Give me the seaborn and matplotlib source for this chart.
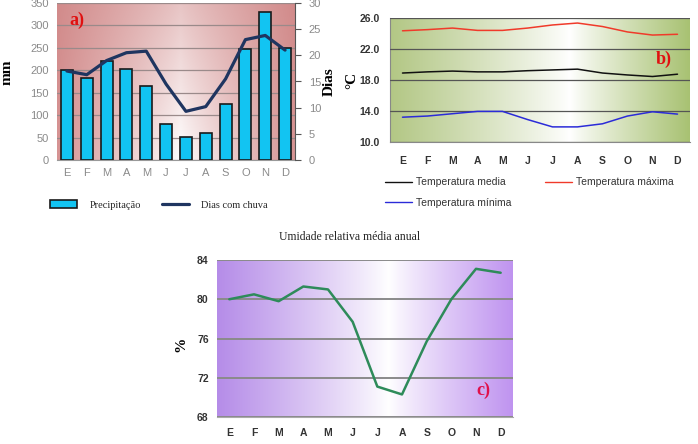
import numpy as np
import matplotlib
matplotlib.use('Agg')
import matplotlib.pyplot as plt
import seaborn as sns
import pandas as pd
from matplotlib.lines import Line2D
from matplotlib.patches import Patch

months = ['E', 'F', 'M', 'A', 'M', 'J', 'J', 'A', 'S', 'O', 'N', 'D']

# a) precipitation (mm) and rainy days
precip = [200, 182, 220, 202, 166, 80, 52, 61, 124, 248, 330, 250]
dias_chuva = [17.0, 16.3, 19.0, 20.5, 20.8, 14.5, 9.3, 10.2, 15.5, 23.0, 23.8, 21.0]

# b) temperatures (°C)
temp_max = [24.35, 24.5, 24.7, 24.4, 24.4, 24.7, 25.1, 25.35, 24.9, 24.2, 23.8, 23.9]
temp_med = [18.9, 19.05, 19.15, 19.05, 19.05, 19.2, 19.3, 19.4, 18.9, 18.65, 18.45, 18.75]
temp_min = [13.2, 13.35, 13.65, 13.95, 13.95, 12.9, 11.95, 11.95, 12.35, 13.35, 13.9, 13.6]

# c) relative humidity (%)
umidade = [80.0, 80.5, 79.8, 81.3, 81.0, 77.7, 71.1, 70.3, 75.7, 80.0, 83.1, 82.7]

sns.set_style('white')
plt.rcParams['font.family'] = ['Liberation Sans', 'DejaVu Sans']

W, H = 698, 444
fig = plt.figure(figsize=(W / 100, H / 100), dpi=100)


def px_axes(x0, y0, x1, y1):
    return fig.add_axes([x0 / W, 1 - y1 / H, (x1 - x0) / W, (y1 - y0) / H])


def gradient_bg(ax, edge_l, edge_r, center, top_dark=None):
    nx, ny = 300, 60
    xs = np.linspace(0, 1, nx)
    t = np.where(xs < center, (center - xs) / center, (xs - center) / (1 - center))
    t = np.clip(t, 0, 1) ** 0.9
    edge = np.where(xs[:, None] < center, np.array(edge_l)[None, :], np.array(edge_r)[None, :])
    row = (1 - t[:, None]) * np.ones(3) + t[:, None] * edge
    img = np.repeat(row[None, :, :], ny, axis=0)
    if top_dark is not None:
        ys = np.linspace(0, 1, ny)[:, None, None]  # 0 top
        dark = np.array(top_dark)[None, None, :]
        k = (1 - ys) * 0.45
        img = img * (1 - k) + np.minimum(img, dark) * k
    ax.imshow(img, extent=(0, 1, 0, 1), transform=ax.transAxes, aspect='auto',
              zorder=0, interpolation='bilinear')


serif_bold = dict(family=['Liberation Serif'], fontweight='bold', fontsize=11, color='black')

df = pd.DataFrame({'idx': np.arange(12), 'precip': precip, 'dias': dias_chuva,
                   'tmax': temp_max, 'tmed': temp_med, 'tmin': temp_min, 'um': umidade})

# ---------------- a) ----------------
ax_a = px_axes(57, 3, 295, 160)
gradient_bg(ax_a, (0.84, 0.58, 0.58), (0.84, 0.58, 0.58), 0.52, top_dark=(0.80, 0.50, 0.50))
sns.barplot(data=df, x='idx', y='precip', color='#12c4f2', edgecolor='#1a1a1a',
            linewidth=1.2, width=0.6, saturation=1, ax=ax_a, zorder=3)
ax_a.set_ylim(0, 350)
ax_a.set_xlim(-0.5, 11.5)
ax_a.set_yticks(range(0, 351, 50))
ax_a.yaxis.grid(True, color='#9a8a8a', lw=0.9)
ax_a.set_axisbelow(False)
for gl in ax_a.get_ygridlines():
    gl.set_zorder(1)
ax_a.set_xticks(range(12))
ax_a.set_xticklabels(months)
ax_a.tick_params(axis='both', colors='#8a8a8a', labelsize=8, length=0, pad=6)
ax_a.set_xlabel('')
ax_a.set_ylabel('mm', **serif_bold)
ax_a.yaxis.set_label_coords(-0.182, 0.56)
for s in ['top', 'left', 'right']:
    ax_a.spines[s].set_visible(False)
ax_a.spines['bottom'].set_color('#999999')

ax_a2 = ax_a.twinx()
sns.lineplot(data=df, x='idx', y='dias', color='#1f3560', lw=2.3, ax=ax_a2, zorder=4)
ax_a2.set_ylim(0, 30)
ax_a2.set_yticks(range(0, 31, 5))
ax_a2.tick_params(axis='y', colors='#8a8a8a', labelsize=8, length=4, width=0.8,
                  direction='out', pad=6)
ax_a2.tick_params(axis='y', color='#555555')
ax_a2.set_ylabel('Dias', **serif_bold)
ax_a2.yaxis.set_label_coords(1.118, 0.5)
for s in ['top', 'left', 'bottom']:
    ax_a2.spines[s].set_visible(False)
ax_a2.spines['right'].set_color('#555555')
ax_a2.set_xlim(-0.5, 11.5)
ax_a.text(0.05, 0.89, 'a)', transform=ax_a.transAxes, color='#e01010', fontsize=13,
          fontweight='bold', family=['Liberation Serif'], va='center', zorder=6)

handles_a = [Patch(facecolor='#12c4f2', edgecolor='#1a1a1a', lw=1.2),
             Line2D([], [], color='#1f3560', lw=2.3)]
fig.legend(handles_a, ['Precipitação', 'Dias com chuva'], loc='center left',
           bbox_to_anchor=(41 / W, 1 - 205 / H), ncol=2, frameon=False,
           prop={'family': 'Liberation Serif', 'size': 7.5}, handlelength=2.6,
           handleheight=0.8, columnspacing=2.0, handletextpad=1.15)

# ---------------- b) ----------------
ax_b = px_axes(390, 18, 690, 142)
gradient_bg(ax_b, (0.70, 0.78, 0.52), (0.66, 0.76, 0.45), 0.60)
sns.lineplot(data=df, x='idx', y='tmax', color='#f03a2a', lw=1.1, ax=ax_b, zorder=4)
sns.lineplot(data=df, x='idx', y='tmed', color='#111111', lw=1.1, ax=ax_b, zorder=4)
sns.lineplot(data=df, x='idx', y='tmin', color='#2b2bd8', lw=1.1, ax=ax_b, zorder=4)
ax_b.set_ylim(10, 26)
ax_b.set_xlim(-0.5, 11.5)
ax_b.set_yticks([10, 14, 18, 22, 26])
ax_b.set_yticklabels(['10.0', '14.0', '18.0', '22.0', '26.0'])
ax_b.set_yticks(np.arange(10, 26.1, 1), minor=True)
ax_b.yaxis.grid(True, which='major', color='#555555', lw=0.9)
ax_b.set_axisbelow(False)
for gl in ax_b.get_ygridlines():
    gl.set_zorder(1)
ax_b.set_xticks(np.arange(-0.5, 12, 1), minor=True)
ax_b.set_xticks(range(12))
ax_b.set_xticklabels(months)
ax_b.tick_params(axis='x', which='major', length=0, labelsize=7.5, labelcolor='#333333', pad=10)
ax_b.tick_params(axis='x', which='minor', length=4, color='#777777', direction='out')
ax_b.tick_params(axis='y', which='major', length=4, labelsize=7.5, labelcolor='#333333',
                 color='#777777', direction='out')
ax_b.tick_params(axis='y', which='minor', length=2.5, color='#777777', direction='out')
for lbl in ax_b.get_xticklabels() + ax_b.get_yticklabels():
    lbl.set_fontweight('bold')
ax_b.set_xlabel('')
ax_b.set_ylabel('°C', **serif_bold)
ax_b.yaxis.set_label_coords(-0.105, 0.5)
for s in ['top', 'right']:
    ax_b.spines[s].set_visible(False)
for s in ['left', 'bottom']:
    ax_b.spines[s].set_color('#888888')
    ax_b.spines[s].set_linewidth(0.8)
ax_b.text(0.885, 0.67, 'b)', transform=ax_b.transAxes, color='#e01010', fontsize=13,
          fontweight='bold', family=['Liberation Serif'], va='center', zorder=6)

handles_b = [Line2D([], [], color='#111111', lw=1.0),
             Line2D([], [], color='#2b2bd8', lw=1.0),
             Line2D([], [], color='#f03a2a', lw=1.0)]
fig.legend(handles_b, ['Temperatura media', 'Temperatura mínima', 'Temperatura máxima'],
           loc='upper left', bbox_to_anchor=(376 / W, 1 - 168 / H), ncol=2, frameon=False,
           prop={'size': 7.5}, labelcolor='#333333', handlelength=2.6,
           handletextpad=0.3, columnspacing=3.3, labelspacing=1.0)

# ---------------- c) ----------------
ax_c = px_axes(217, 260, 513, 417)
gradient_bg(ax_c, (0.71, 0.55, 0.91), (0.75, 0.58, 0.94), 0.58)
sns.lineplot(data=df, x='idx', y='um', color='#2e8b5a', lw=1.8, ax=ax_c, zorder=4)
ax_c.set_ylim(68, 84)
ax_c.set_xlim(-0.5, 11.5)
ax_c.set_yticks([68, 72, 76, 80, 84])
ax_c.yaxis.grid(True, color='#8a8a8a', lw=1.4)
ax_c.set_axisbelow(False)
for gl in ax_c.get_ygridlines():
    gl.set_zorder(1)
ax_c.set_xticks(np.arange(-0.5, 12, 1), minor=True)
ax_c.set_xticks(range(12))
ax_c.set_xticklabels(months)
ax_c.tick_params(axis='x', which='major', length=0, labelsize=7.5, labelcolor='#333333', pad=8)
ax_c.tick_params(axis='x', which='minor', length=3, color='#999999', direction='out')
ax_c.tick_params(axis='y', length=0, labelsize=7.5, labelcolor='#333333', pad=6)
for lbl in ax_c.get_xticklabels() + ax_c.get_yticklabels():
    lbl.set_fontweight('bold')
ax_c.set_xlabel('')
ax_c.set_ylabel('%', **serif_bold)
ax_c.yaxis.set_label_coords(-0.101, 0.46)
for s in ['top', 'right', 'left']:
    ax_c.spines[s].set_visible(False)
ax_c.spines['bottom'].set_color('#aaaaaa')
ax_c.text(0.875, 0.17, 'c)', transform=ax_c.transAxes, color='#e0104a', fontsize=13,
          fontweight='bold', family=['Liberation Serif'], va='center', zorder=6)
fig.text(350 / W, 1 - 237 / H, 'Umidade relativa média anual', ha='center', va='center',
         family=['Liberation Serif'], fontsize=8.5)

fig.savefig('out.png', dpi=100)
